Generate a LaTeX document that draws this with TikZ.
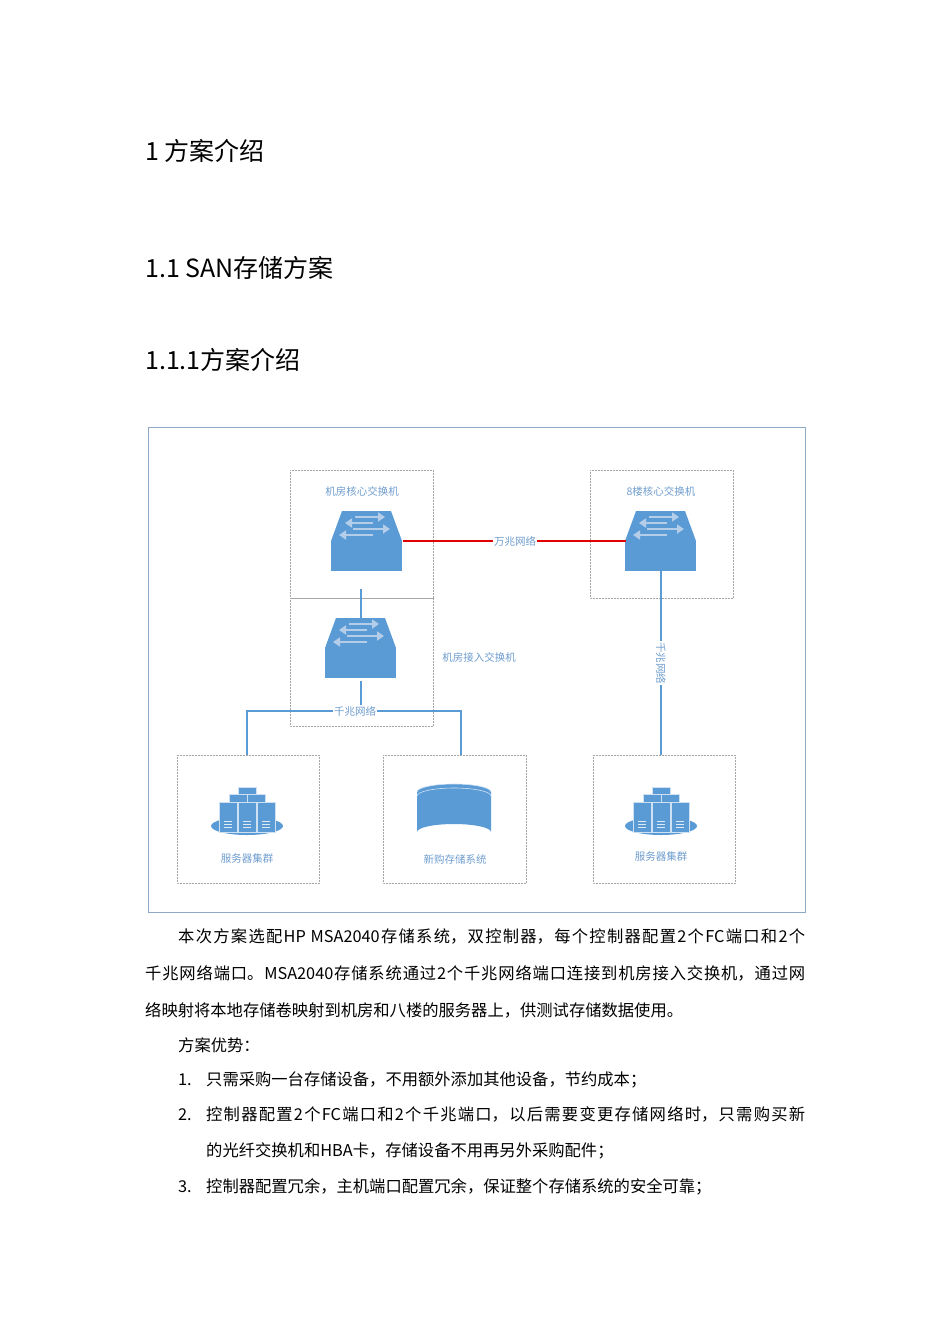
\documentclass[tikz,border=0pt]{standalone}
\usepackage{fontspec}
\usetikzlibrary{arrows.meta}
\setmainfont{Noto Sans CJK SC}
\XeTeXlinebreaklocale "zh"
\XeTeXlinebreakskip=0pt plus 2pt
\newcommand{\fullline}[2]{\parbox[b]{#1}{\parfillskip=0pt\noindent #2}}
\begin{document}
\begin{tikzpicture}[x=1pt,y=-1pt,
  lbl/.style={font=\fontsize{10.5}{11}\selectfont, text=labc},
  dbox/.style={draw=gray!70, densely dotted, line width=0.5pt},
  conn/.style={color=linkc, line width=1.2pt},
  body/.style={anchor=base west, inner sep=0, font=\fontsize{16.3}{17}\selectfont},
  head/.style={anchor=base west, inner sep=0, font=\fontsize{25}{28}\selectfont}]
\definecolor{ico}{HTML}{5B9BD5}
\definecolor{arr}{HTML}{B4CDE8}
\definecolor{labc}{HTML}{6F9DCE}
\definecolor{linkc}{HTML}{5B9BD5}
\definecolor{redc}{HTML}{E00000}
\definecolor{framec}{HTML}{8EA9C8}
\path[use as bounding box] (0,0) rectangle (950,1344);
\node[head] (h1) at (145,160) {1 方案介绍};
\node[head] (h2) at (145,277) {1.1 SAN存储方案};
\node[head] (h3) at (145,369) {1.1.1方案介绍};
\draw[draw=framec, line width=1pt] (148,427) rectangle (805,912);
% dotted boxes
\draw[dbox] (290,470) rectangle (433,598);
\draw[dbox] (290,598) rectangle (433,726);
\draw[dbox] (590,470) rectangle (733,598);
\draw[dbox] (177,755) rectangle (319,883);
\draw[dbox] (383,755) rectangle (526,883);
\draw[dbox] (593,755) rectangle (735,883);
% switch pic
\newcommand{\myswitch}[2]{%
 \begin{scope}[shift={(#1,#2)}]
  \fill[ico] (-25,-30) -- (24,-30) -- (35,0) -- (-36,0) -- cycle;
  \fill[ico] (-36,0) rectangle (35,30);
  \draw[arr, line width=2.6pt, -{Triangle[length=7pt,width=9pt]}] (-12,-24) -- (18,-24);
  \draw[arr, line width=2.6pt, -{Triangle[length=7pt,width=9pt]}] (6,-18) -- (-22,-18);
  \draw[arr, line width=2.6pt, -{Triangle[length=7pt,width=9pt]}] (-14,-12) -- (23,-12);
  \draw[arr, line width=2.6pt, -{Triangle[length=7pt,width=9pt]}] (6,-6) -- (-28,-6);
 \end{scope}}
\myswitch{367}{541}
\myswitch{361}{648}
\myswitch{661}{541}
\node[lbl] (l1) at (362,491) {机房核心交换机};
\node[lbl] (l2) at (661,491) {8楼核心交换机};
\node[lbl] (l3) at (479,657) {机房接入交换机};
% links
\coordinate (r1) at (403,541); \coordinate (r2) at (626,541);
\draw[color=redc, line width=1.2pt] (r1) -- (r2);
\node[lbl, fill=white, inner sep=1pt] (wz) at (515,541) {万兆网络};
\coordinate (v1) at (361,589); \coordinate (v2) at (361,618);
\draw[conn] (v1) -- (v2);
\coordinate (v3) at (361,681); \coordinate (v4) at (361,711);
\draw[conn] (v3) -- (v4);
\coordinate (b1) at (247,755); \coordinate (b2) at (461,755);
\draw[conn] (b1) |- (v4) -| (b2);
\node[lbl, fill=white, inner sep=1pt] (qz) at (355,711) {千兆网络};
\coordinate (v5) at (661,571); \coordinate (v6) at (661,755);
\draw[conn] (v5) -- (v6);
\node[lbl, fill=white, inner sep=1pt, rotate=-90] (qz2) at (661,663) {千兆网络};
% servers
\newcommand{\myserver}[2]{%
 \begin{scope}[shift={(#1,#2)}]
  \fill[ico] (0,11) ellipse (36 and 9);
  \foreach \dx/\dy/\h in {-9/-28/8, -18/-21/8, 0/-21/8} \fill[ico,draw=white!70!ico,line width=0.4pt] (\dx,\dy) rectangle ++(18,\h);
  \foreach \dx in {-28,-9,10} {
   \fill[ico,draw=white!70!ico,line width=0.5pt] (\dx,-13) rectangle ++(18,30);
   \foreach \yy in {6,9,12} \draw[white!80!ico, line width=0.8pt] (\dx+5,\yy) -- ++(8,0);}
 \end{scope}}
\myserver{247}{815}
\myserver{661}{815}
\node[lbl] (sl1) at (247,858) {服务器集群};
\node[lbl] (sl2) at (661,856) {服务器集群};
% storage
\fill[ico] (417,792) -- (417,832) arc[start angle=180,end angle=360,x radius=37,y radius=8] -- (491,792) -- cycle;
\fill[ico] (454,792) ellipse (37 and 8);
\draw[white!70!ico, line width=0.6pt] (417,792) arc[start angle=180,end angle=360,x radius=37,y radius=8];
\draw[white!70!ico, line width=0.6pt] (417,796) arc[start angle=180,end angle=360,x radius=37,y radius=8];
\node[lbl] (stl) at (455,859) {新购存储系统};
% body
\node[body] (p1) at (178,942) {\fullline{627pt}{本次方案选配HP MSA2040存储系统，双控制器，每个控制器配置2个FC端口和2个}};
\node[body] (p2) at (145,979) {\fullline{660pt}{千兆网络端口。MSA2040存储系统通过2个千兆网络端口连接到机房接入交换机，通过网}};
\node[body] (p3) at (145,1016) {络映射将本地存储卷映射到机房和八楼的服务器上，供测试存储数据使用。};
\node[body] (p4) at (178,1051) {方案优势：};
\node[body] (n1) at (178,1085) {1.};
\node[body] (p5) at (206,1085) {只需采购一台存储设备，不用额外添加其他设备，节约成本；};
\node[body] (n2) at (178,1120) {2.};
\node[body] (p6) at (206,1120) {\fullline{599pt}{控制器配置2个FC端口和2个千兆端口，以后需要变更存储网络时，只需购买新}};
\node[body] (p7) at (206,1156) {的光纤交换机和HBA卡，存储设备不用再另外采购配件；};
\node[body] (n3) at (178,1192) {3.};
\node[body] (p8) at (206,1192) {控制器配置冗余，主机端口配置冗余，保证整个存储系统的安全可靠；};
\end{tikzpicture}
\end{document}
